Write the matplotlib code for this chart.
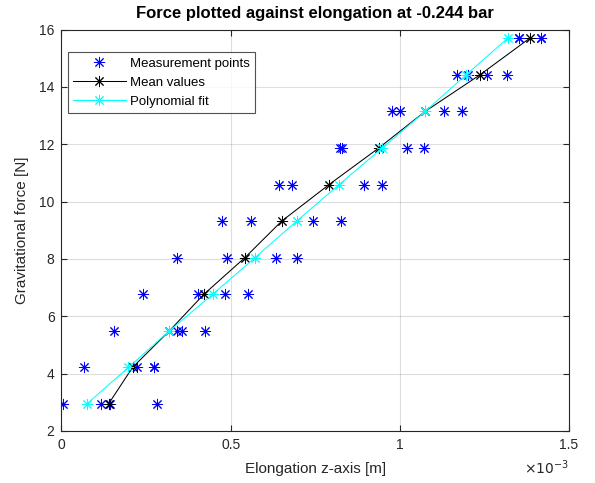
import numpy as np
import matplotlib
matplotlib.use("Agg")
import matplotlib.pyplot as plt
from matplotlib.ticker import FuncFormatter, FixedLocator

plt.rcParams['font.family'] = ['Liberation Sans', 'DejaVu Sans']

# Load levels: gravitational force [N] for each mass step
force_levels = [2.943, 4.218, 5.494, 6.769, 8.044, 9.320,
                10.595, 11.870, 13.145, 14.421, 15.696]

# Measured elongations per load level [1e-3 m]
measured_mm = [
    [0.005, 0.116, 0.143, 0.283],
    [0.067, 0.222, 0.273, 0.273],
    [0.155, 0.342, 0.355, 0.424],
    [0.240, 0.404, 0.483, 0.550],
    [0.342, 0.490, 0.633, 0.695],
    [0.475, 0.560, 0.744, 0.826],
    [0.644, 0.681, 0.894, 0.948],
    [0.822, 0.830, 1.021, 1.072],
    [0.976, 1.001, 1.131, 1.183],
    [1.170, 1.202, 1.257, 1.318],
    [1.351, 1.351, 1.418, 1.418],
]

# Mean elongation per load level [1e-3 m]
mean_mm = [0.139, 0.210, 0.319, 0.421, 0.542, 0.651,
           0.791, 0.938, 1.075, 1.237, 1.384]

# Polynomial fit evaluated at each load level [1e-3 m]
fit_mm = [0.075, 0.198, 0.319, 0.447, 0.572, 0.695,
          0.821, 0.948, 1.075, 1.196, 1.319]

x_ticks_mm = [0, 0.5, 1, 1.5]
y_ticks = [2, 4, 6, 8, 10, 12, 14, 16]

SCALE = 1e-3
meas_x = np.array(measured_mm).ravel() * SCALE
meas_y = np.repeat(force_levels, [len(r) for r in measured_mm])
mean_x = np.array(mean_mm) * SCALE
fit_x = np.array(fit_mm) * SCALE

W, H = 595, 483
fig = plt.figure(figsize=(W / 100, H / 100), dpi=100)
ax = fig.add_axes([61.5 / W, 1 - 431 / H, (569 - 61.5) / W, (431 - 29.5) / H])

ast = (8, 2, 0)
mk = dict(marker=ast, ms=8, mew=0.7)
ax.plot(meas_x, meas_y, linestyle='none', color=(0, 0, 1),
        label='Measurement points', **mk)
ax.plot(mean_x, force_levels, linestyle='-', lw=0.75, color='black',
        label='Mean values', **mk)
ax.plot(fit_x, force_levels, linestyle='-', lw=0.75, color=(0, 1, 1),
        label='Polynomial fit', **mk)

ax.set_xlim(0, 1.5e-3)
ax.set_ylim(2, 16)
ax.xaxis.set_major_locator(FixedLocator([t * SCALE for t in x_ticks_mm]))
ax.yaxis.set_major_locator(FixedLocator(y_ticks))
ax.xaxis.set_major_formatter(FuncFormatter(lambda v, p: f"{v / SCALE:g}"))

axis_col = (0.15, 0.15, 0.15)
ax.grid(True, color=axis_col, alpha=0.15, lw=0.8)
ax.set_axisbelow(True)
for s in ax.spines.values():
    s.set_color(axis_col)
    s.set_linewidth(0.8)
ax.tick_params(direction='in', length=4, width=0.8, colors=axis_col,
               labelsize=10, top=True, right=True, pad=5)

ax.set_title('Force plotted against elongation at -0.244 bar',
             fontsize=12, fontweight='bold', pad=8)
ax.set_xlabel('Elongation z-axis [m]', fontsize=11, color=axis_col, labelpad=7)
ax.set_ylabel('Gravitational force [N]', fontsize=11, color=axis_col, labelpad=7)
fig.text(569 / W, 1 - 468 / H, r'$\times10^{-3}$', fontsize=10,
         color=axis_col, ha='right', va='center')

leg = ax.legend(loc='upper left', bbox_to_anchor=(6.2 / 507.5, 1 - 22.8 / 401.5),
                fontsize=9.5, frameon=True, fancybox=False, borderpad=0.4,
                handlelength=4.0, handletextpad=0.3, labelspacing=0.52,
                borderaxespad=0)
leg.get_frame().set_edgecolor(axis_col)
leg.get_frame().set_linewidth(0.8)

fig.savefig('out.png', dpi=100)
